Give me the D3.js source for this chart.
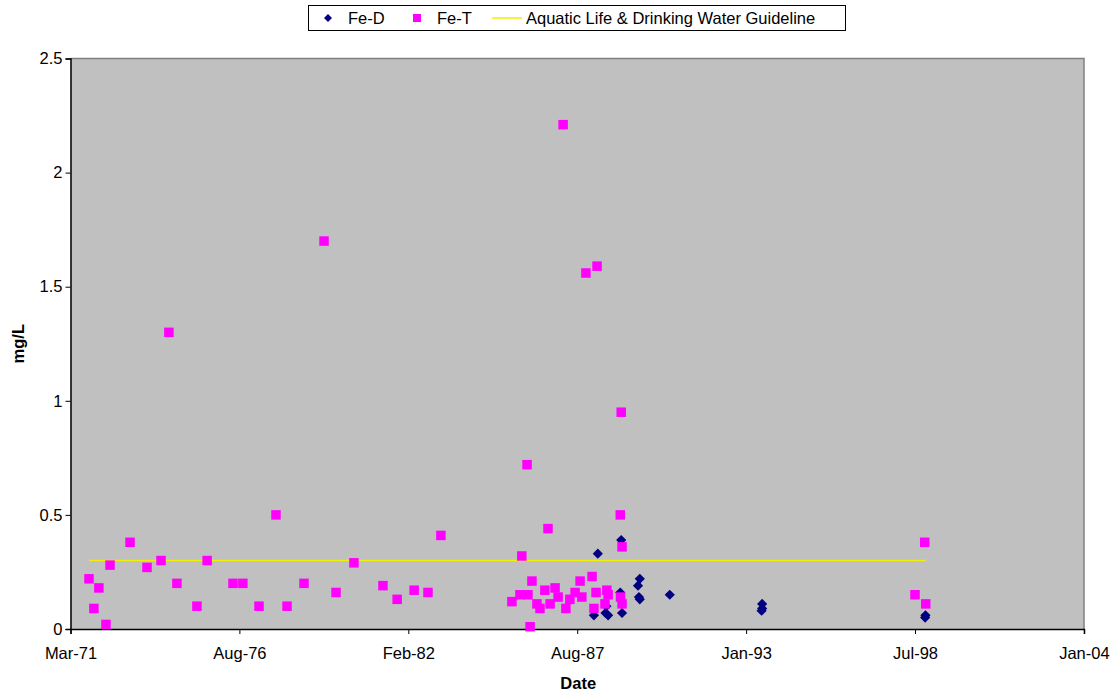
<!DOCTYPE html>
<html>
<head>
<meta charset="utf-8">
<script src="https://cdn.jsdelivr.net/npm/d3@7"></script>
<style>
  html, body { margin: 0; padding: 0; background: #ffffff; }
  svg { display: block; font-family: Arial, "Liberation Sans", sans-serif; }
</style>
</head>
<body>
<svg id="chart" width="1115" height="694"></svg>
<script>
// Total iron (Fe-T) samples, mg/L
const feTDates = [
  "1971-10-12","1971-12-09","1972-02-06","1972-04-30","1972-06-17","1973-02-09",
  "1973-08-29","1974-02-11","1974-05-15","1974-08-18","1975-04-12","1975-08-11",
  "1976-06-12","1976-10-07","1977-04-16","1977-11-03","1978-03-14","1978-10-01",
  "1979-05-26","1979-10-15","1980-05-14","1981-04-23","1981-10-08","1982-04-27",
  "1982-10-08","1983-03-10","1985-06-28","1985-10-01","1985-10-23","1985-12-24",
  "1986-01-04","1986-01-29","1986-02-20","1986-04-20","1986-05-26","1986-07-23",
  "1986-08-29","1986-09-23","1986-11-21","1986-12-27","1987-02-24","1987-03-29",
  "1987-05-15","1987-07-16","1987-09-13","1987-10-04","1987-11-21","1988-02-02",
  "1988-02-24","1988-03-20","1988-04-01","1988-07-04","1988-07-26","1988-08-10",
  "1989-01-01","1989-01-04","1989-01-12","1989-01-22","1989-01-22",
  "1998-07-23","1998-11-15","1998-11-27"
];
const feTValues = [
  0.22, 0.09, 0.18, 0.02, 0.28, 0.38,
  0.27, 0.30, 1.30, 0.20, 0.10, 0.30,
  0.20, 0.20, 0.10, 0.50, 0.10, 0.20,
  1.70, 0.16, 0.29, 0.19, 0.13, 0.17,
  0.16, 0.41, 0.12, 0.15, 0.32, 0.72,
  0.15, 0.01, 0.21, 0.11, 0.09, 0.17,
  0.44, 0.11, 0.18, 0.14, 2.21, 0.09,
  0.13, 0.16, 0.21, 0.14, 1.56, 0.23,
  0.09, 0.16, 1.59, 0.11, 0.17, 0.15,
  0.50, 0.14, 0.95, 0.36, 0.11,
  0.15, 0.38, 0.11
];

// Dissolved iron (Fe-D) samples, mg/L
const feDDates = [
  "1988-02-24","1988-04-10","1988-07-10","1988-07-20","1988-08-10",
  "1989-01-01","1989-01-12","1989-01-22",
  "1989-07-30","1989-08-20","1989-08-10","1989-08-20",
  "1990-08-10",
  "1993-08-08","1993-08-08","1993-08-01",
  "1998-11-20","1998-11-24"
];
const feDValues = [
  0.06, 0.33, 0.07, 0.10, 0.06,
  0.16, 0.39, 0.07,
  0.19, 0.22, 0.14, 0.13,
  0.15,
  0.11, 0.09, 0.08,
  0.05, 0.06
];

// Guideline level for aquatic life and drinking water, mg/L
const guidelineValue = 0.3;

// Axis settings
const xStart = "1971-03-07";
const xEnd = "2004-01-14";
const xTickStepDays = 2000;
const xTickLabels = ["Mar-71","Aug-76","Feb-82","Aug-87","Jan-93","Jul-98","Jan-04"];
const yTicks = [0, 0.5, 1, 1.5, 2, 2.5];
const yMax = 2.5;

const legendLabels = ["Fe-D", "Fe-T", "Aquatic Life & Drinking Water Guideline"];

const parse = d3.utcParse("%Y-%m-%d");
const svg = d3.select("#chart");
const fontSize = 16.5;

const plot = { left: 70.5, right: 1084, top: 58.5, bottom: 629 };

const x = d3.scaleUtc()
  .domain([parse(xStart), parse(xEnd)])
  .range([plot.left, plot.right]);
const y = d3.scaleLinear()
  .domain([0, yMax])
  .range([plot.bottom, plot.top]);

const feT = feTDates.map((d, i) => ({ date: parse(d), value: feTValues[i] }));
const feD = feDDates.map((d, i) => ({ date: parse(d), value: feDValues[i] }));

// Plot area background with grey top/right frame
svg.append("rect")
  .attr("x", plot.left).attr("y", plot.top)
  .attr("width", plot.right - plot.left).attr("height", plot.bottom - plot.top)
  .attr("fill", "#c0c0c0");
svg.append("path")
  .attr("d", `M${plot.left},${plot.top}H${plot.right}V${plot.bottom}`)
  .attr("fill", "none").attr("stroke", "#808080").attr("stroke-width", 1.5);

// Axes
const xTickDates = xTickLabels.map((_, i) => d3.utcDay.offset(parse(xStart), i * xTickStepDays));
const xAxis = d3.axisBottom(x)
  .tickValues(xTickDates)
  .tickFormat((d, i) => xTickLabels[i])
  .tickSize(5).tickPadding(13);
const yAxis = d3.axisLeft(y)
  .tickValues(yTicks)
  .tickFormat(d3.format("~g"))
  .tickSize(5).tickPadding(3);

const gx = svg.append("g").attr("transform", `translate(0,${plot.bottom})`).call(xAxis);
const gy = svg.append("g").attr("transform", `translate(${plot.left},0)`).call(yAxis);
[gx, gy].forEach(g => {
  g.select(".domain").attr("stroke", "#000").attr("stroke-width", 1.5);
  g.selectAll(".tick line").attr("stroke", "#000");
  g.selectAll(".tick text").attr("fill", "#000").attr("font-size", fontSize)
    .attr("font-family", "Arial, 'Liberation Sans', sans-serif");
});

// Axis titles
svg.append("text")
  .attr("x", (plot.left + plot.right) / 2 + 1).attr("y", 689)
  .attr("text-anchor", "middle").attr("font-weight", "bold").attr("font-size", fontSize)
  .text("Date");
svg.append("text")
  .attr("transform", `translate(24,${(plot.top + plot.bottom) / 2}) rotate(-90)`)
  .attr("text-anchor", "middle").attr("font-weight", "bold").attr("font-size", fontSize)
  .text("mg/L");

// Guideline spanning the sampling period
const allDates = feT.concat(feD).map(d => d.date);
svg.append("line")
  .attr("x1", x(d3.min(allDates))).attr("x2", x(d3.max(allDates)))
  .attr("y1", y(guidelineValue)).attr("y2", y(guidelineValue))
  .attr("stroke", "#f0f000").attr("stroke-width", 1.5);

// Markers: Fe-D diamonds underneath, Fe-T squares on top
svg.append("g").selectAll("path")
  .data(feD).join("path")
  .attr("transform", d => `translate(${x(d.date)},${y(d.value)}) rotate(45)`)
  .attr("d", d3.symbol().type(d3.symbolSquare).size(52))
  .attr("fill", "#000080");

const sq = 9.5;
svg.append("g").selectAll("rect")
  .data(feT).join("rect")
  .attr("x", d => x(d.date) - sq / 2).attr("y", d => y(d.value) - sq / 2)
  .attr("width", sq).attr("height", sq)
  .attr("fill", "#ff00ff");

// Legend
const lg = svg.append("g");
lg.append("rect")
  .attr("x", 308.5).attr("y", 5.5).attr("width", 537).attr("height", 25)
  .attr("fill", "#fff").attr("stroke", "#000").attr("stroke-width", 1);
lg.append("path")
  .attr("transform", "translate(328,18) rotate(45)")
  .attr("d", d3.symbol().type(d3.symbolSquare).size(32))
  .attr("fill", "#000080");
lg.append("rect")
  .attr("x", 413).attr("y", 14).attr("width", 8).attr("height", 8)
  .attr("fill", "#ff00ff");
lg.append("line")
  .attr("x1", 492).attr("x2", 522).attr("y1", 18).attr("y2", 18)
  .attr("stroke", "#f0f000").attr("stroke-width", 1.5);
const legendX = [348, 437, 526];
legendLabels.forEach((t, i) => {
  lg.append("text")
    .attr("x", legendX[i]).attr("y", 24)
    .attr("font-size", fontSize).attr("fill", "#000")
    .text(t);
});
</script>
</body>
</html>
